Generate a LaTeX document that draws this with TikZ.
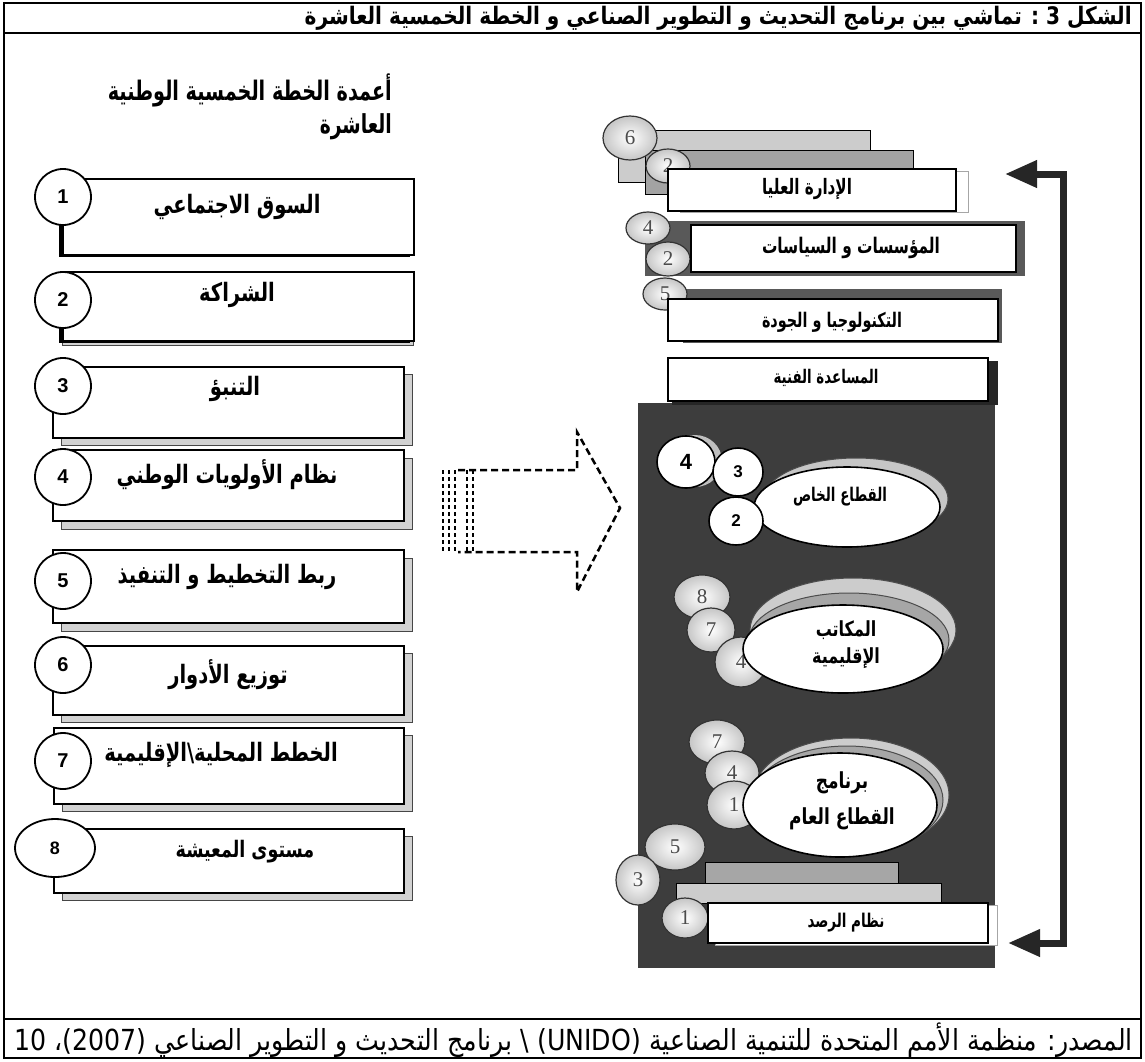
\documentclass[tikz,border=0pt]{standalone}
\usepackage{fontspec}
\usepackage{graphicx}
\usetikzlibrary{arrows.meta,shapes.geometric}
\TeXXeTstate=1
\setmainfont{Liberation Sans}
\newfontfamily\arfont[Script=Arabic]{DejaVu Sans}
\newfontfamily\serifnum{Liberation Serif}
% width-fitted Arabic text, stretched vertically to the proportions of the original face
\newcommand{\arb}[2]{\scalebox{1}[1.4]{\resizebox{#1pt}{!}{\arfont\bfseries #2}}}
\newcommand{\arw}[3]{\scalebox{1}[#2]{\resizebox{#1pt}{!}{\arfont\bfseries #3}}}
\newcommand{\arwn}[3]{\scalebox{1}[#2]{\resizebox{#1pt}{!}{\arfont #3}}}
\newcommand{\ars}[2]{\scalebox{1}[1.3]{\arfont\bfseries\fontsize{#1}{#1}\selectfont #2}}
\newcommand{\RB}[6]{\node[#2, anchor=north west, minimum width={#5-#3}, minimum height={#6-#4}] (#1) at (#3,#4) {};}
\tikzset{
  lbox/.style={rectangle, draw, line width=2, fill=white, inner sep=0},
  lshad/.style={rectangle, draw=gray!55!black, line width=1, fill=gray!35, inner sep=0},
  kshad/.style={rectangle, fill=black, inner sep=0},
  lcirc/.style={circle, draw, line width=1.8, fill=white, minimum size=56, inner sep=0, font=\fontsize{20}{20}\selectfont\bfseries},
  lbl/.style={inner sep=0},
  gbar/.style={rectangle, draw, line width=1, inner sep=0},
  wbox/.style={rectangle, draw, line width=2, fill=white, inner sep=0},
  wback/.style={rectangle, draw=gray!70, line width=1.2, fill=white, inner sep=0},
  serc/.style={ellipse, draw=black!80, line width=1.2, inner color=white, outer color=gray!45, inner sep=0, text=black!70, font=\serifnum\fontsize{21}{21}\selectfont},
  wcirc/.style={ellipse, draw, line width=1.6, fill=white, inner sep=0, font=\fontsize{17}{17}\selectfont\bfseries},
  well/.style={ellipse, draw, line width=1.6, fill=white, inner sep=0},
  gell/.style={ellipse, draw=black!70, line width=1, inner sep=0},
  bigarr/.style={line width=7, draw=black!85, {Triangle[length=32pt,width=26pt]}-{Triangle[length=32pt,width=26pt]}},
  dasharr/.style={line width=2.5, dash pattern=on 7pt off 4pt},
  stripe/.style={line width=2, dash pattern=on 4pt off 3pt},
}
\begin{document}
\begin{tikzpicture}[x=1pt,y=-1pt]
\useasboundingbox (0,0) rectangle (1145,1061);
\fill[white] (0,0) rectangle (1145,1061);
% frame
\draw[line width=2] (4,3) rectangle (1141,1058);
\draw[line width=2] (4,33) -- (1141,33);
\draw[line width=2] (4,1019) -- (1141,1019);
\node[lbl, anchor=east] (title) at (1132,18) {\arw{827}{1.2}{\beginR الشكل 3 : تماشي بين برنامج التحديث و التطوير الصناعي و الخطة الخمسية العاشرة\endR}};
\node[lbl, anchor=east] (source) at (1133,1040) {\arwn{1118}{1.15}{\beginR المصدر: منظمة الأمم المتحدة للتنمية الصناعية \beginL(UNIDO)\endL{} \textbackslash{} برنامج التحديث و التطوير الصناعي \beginL(2007)\endL{}، 10\endR}};

% heading
\node[lbl, anchor=east] (h1) at (392,90) {\arb{284}{\beginR أعمدة الخطة الخمسية الوطنية\endR}};
\node[lbl, anchor=east] (h2) at (392,127) {\arb{72}{\beginR العاشرة\endR}};

% left boxes
\RB{k1}{kshad}{59}{181}{410}{257}
\RB{b1}{lbox}{62}{178}{413}{254}
\RB{g2}{lshad}{62}{275}{413}{345}
\RB{k2}{kshad}{59}{274}{410}{343}
\RB{b2}{lbox}{62}{271}{413}{340}
\RB{s3}{lshad}{61}{374}{412}{445}
\RB{b3}{lbox}{52}{366}{403}{437}
\RB{s4}{lshad}{61}{458}{412}{529}
\RB{b4}{lbox}{52}{449}{403}{520}
\RB{s5}{lshad}{61}{558}{412}{631}
\RB{b5}{lbox}{52}{549}{403}{622}
\RB{s6}{lshad}{61}{653}{412}{722}
\RB{b6}{lbox}{52}{645}{403}{714}
\RB{s7}{lshad}{62}{735}{412}{811}
\RB{b7}{lbox}{53}{727}{403}{803}
\RB{s8}{lshad}{62}{836}{412}{900}
\RB{b8}{lbox}{53}{828}{403}{892}

\node[lcirc] (c1) at (63,197) {1};
\node[lcirc] (c2) at (63,300) {2};
\node[lcirc] (c3) at (63,386) {3};
\node[lcirc] (c4) at (63,477) {4};
\node[lcirc] (c5) at (63,581) {5};
\node[lcirc] (c6) at (63,665) {6};
\node[lcirc] (c7) at (63,761) {7};
\node[lcirc, ellipse, minimum width=80, minimum height=58, font=\fontsize{18}{18}\selectfont\bfseries] (c8) at (55,848) {8};

\node[lbl] (t1) at (237,207) {\ars{19.5}{\beginR السوق الاجتماعي\endR}};
\node[lbl] (t2) at (237,295) {\ars{19.5}{\beginR الشراكة\endR}};
\node[lbl] (t3) at (235,389) {\ars{19.5}{\beginR التنبؤ\endR}};
\node[lbl] (t4) at (227,475) {\ars{19.5}{\beginR نظام الأولويات الوطني\endR}};
\node[lbl] (t5) at (227,577) {\ars{19.5}{\beginR ربط التخطيط و التنفيذ\endR}};
\node[lbl] (t6) at (228,675) {\ars{19.5}{\beginR توزيع الأدوار\endR}};
\node[lbl] (t7) at (221,755) {\ars{19.5}{\beginR الخطط المحلية\textbackslash الإقليمية\endR}};
\node[lbl] (t8) at (245,852) {\ars{17.5}{\beginR مستوى المعيشة\endR}};

% dashed arrow
\draw[dasharr] (458,470) -- (577,470) -- (577,432) -- (620,508) -- (577,592) -- (577,552) -- (458,552);
\foreach \xx in {443,449,455,467,473} \draw[stripe] (\xx,470) -- (\xx,553);

% right: top cluster
\RB{bar1}{gbar, fill=gray!40}{618}{130}{870}{182}
\RB{bar2}{gbar, fill=gray!72}{645}{150}{913}{194}
\node[serc, minimum width=54, minimum height=44] (r6) at (630,138) {6};
\node[serc, minimum width=44, minimum height=34] (r2a) at (668,166) {2};
\RB{idb}{wback}{680}{171}{968}{212}
\RB{idara}{wbox}{667}{168}{955}{210}
\node[lbl] (tidara) at (807,189) {\arb{90}{\beginR الإدارة العليا\endR}};

\RB{bar3}{rectangle, fill=black!65, inner sep=0}{645}{221}{1025}{276}
\node[serc, minimum width=44, minimum height=32] (r4a) at (648,228) {4};
\node[serc, minimum width=44, minimum height=34] (r2b) at (668,259) {2};
\RB{muas}{wbox}{690}{224}{1015}{271}
\node[lbl] (tmuas) at (851,248) {\arb{178}{\beginR المؤسسات و السياسات\endR}};

\RB{bar4}{rectangle, fill=black!65, inner sep=0}{683}{289}{1002}{343}
\node[serc, minimum width=44, minimum height=32] (r5a) at (665,294) {5};
\RB{tech}{wbox}{667}{298}{997}{340}
\node[lbl] (ttech) at (832,322) {\arb{140}{\beginR التكنولوجيا و الجودة\endR}};

% panel
\RB{panel}{rectangle, fill=black!76, inner sep=0}{638}{403}{995}{968}
\RB{musb}{rectangle, fill=black!85, inner sep=0}{672}{361}{998}{405}
\RB{musa}{wbox}{667}{357}{987}{400}
\node[lbl] (tmusa) at (826,378) {\arb{105}{\beginR المساعدة الفنية\endR}};

% private sector
\node[ellipse, fill=gray!50, minimum width=54, minimum height=52, inner sep=0] (p4b) at (695,461) {};
\node[gell, fill=gray!45, minimum width=184, minimum height=82] (pback) at (856,499) {};
\node[well, minimum width=186, minimum height=80] (priv) at (847,507) {};
\node[wcirc, minimum width=58, minimum height=52, font=\fontsize{22}{22}\selectfont\bfseries] (p4) at (686,462) {4};
\node[wcirc, minimum width=50, minimum height=48] (p3) at (738,472) {3};
\node[wcirc, minimum width=54, minimum height=48] (p2) at (736,521) {2};
\node[lbl] (tpriv) at (840,497) {\arb{94}{\beginR القطاع الخاص\endR}};

% regional offices
\node[gell, fill=gray!40, minimum width=206, minimum height=104] (rback1) at (853,630) {};
\node[gell, fill=gray!70, minimum width=200, minimum height=94] (rback2) at (849,640) {};
\node[serc, minimum width=56, minimum height=44] (r8) at (702,597) {8};
\node[serc, minimum width=48, minimum height=44] (r7) at (711,630) {7};
\node[serc, minimum width=52, minimum height=50] (r4) at (741,662) {4};
\node[well, minimum width=200, minimum height=88] (reg) at (843,649) {};
\node[lbl] (treg1) at (846,630) {\ars{16}{\beginR المكاتب\endR}};
\node[lbl] (treg2) at (846,658) {\ars{16}{\beginR الإقليمية\endR}};

% public sector
\node[gell, fill=gray!40, minimum width=196, minimum height=114] (uback1) at (851,795) {};
\node[gell, fill=gray!70, minimum width=192, minimum height=108] (uback2) at (847,800) {};
\node[serc, minimum width=56, minimum height=44] (u7) at (717,742) {7};
\node[serc, minimum width=54, minimum height=44] (u4) at (732,773) {4};
\node[serc, minimum width=54, minimum height=48] (u1) at (734,805) {1};
\node[well, minimum width=194, minimum height=104] (pub) at (840,805) {};
\node[lbl] (tpub1) at (842,783) {\ars{17}{\beginR برنامج\endR}};
\node[lbl] (tpub2) at (842,819) {\ars{17}{\beginR القطاع العام\endR}};

% monitoring
\RB{mbar}{gbar, fill=gray!70}{705}{862}{898}{885}
\RB{lbar}{gbar, fill=gray!40}{676}{883}{941}{903}
\node[serc, minimum width=60, minimum height=46] (m5) at (675,847) {5};
\node[serc, minimum width=44, minimum height=50] (m3) at (638,880) {3};
\node[serc, minimum width=46, minimum height=40] (m1) at (685,918) {1};
\RB{nzb}{wback}{715}{905}{997}{945}
\RB{nazam}{wbox}{707}{902}{987}{942}
\node[lbl] (tnazam) at (846,923) {\arb{77}{\beginR نظام الرصد\endR}};

% feedback arrow
\coordinate (arT) at (1005,174);
\coordinate (arB) at (1008,943);
\draw[bigarr] (arB) -- (1063,943) -- (1063,174) -- (arT);
\end{tikzpicture}
\end{document}
